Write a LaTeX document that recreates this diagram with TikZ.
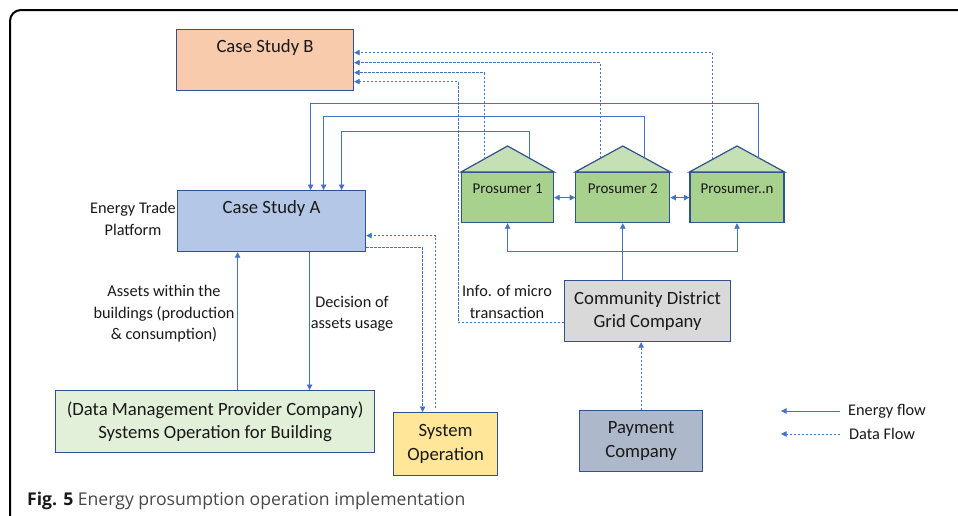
\documentclass[tikz,border=0pt]{standalone}
\usepackage{fontspec}
\setmainfont{Carlito}
\newfontfamily\capfont{Open Sans}
\usetikzlibrary{arrows.meta,positioning,calc}
\definecolor{flowblue}{HTML}{4472C4}
\definecolor{edgeblue}{HTML}{2F528F}
\definecolor{peach}{HTML}{F8CBAD}
\definecolor{platblue}{HTML}{B4C7E7}
\definecolor{mintgreen}{HTML}{E2F0D9}
\definecolor{sunyellow}{HTML}{FFE699}
\definecolor{gridgray}{HTML}{D9D9D9}
\definecolor{paygray}{HTML}{ADB9CA}
\definecolor{housegreen}{HTML}{A9D18E}
\definecolor{roofgreen}{HTML}{C5E0B4}
\tikzset{x=1pt, y=-1pt, % one unit is one pixel, y runs downwards
        box/.style={ % Sets the properties for each block
            draw=edgeblue, line width=1.2pt,
            inner sep=0pt, align=center, text=black!90,
            font=\fontsize{18.7}{23.5}\selectfont},
        boxtext/.style={inner sep=0pt, text=black!90,
            font=\fontsize{18.7}{23.5}\selectfont},
        housetext/.style={inner sep=0pt, text=black!90,
            font=\fontsize{15}{18}\selectfont},
        house/.style={box, fill=housegreen,
            minimum width=92pt, minimum height=50pt},
        roof/.style={draw=edgeblue, line width=1.2pt, fill=roofgreen,
            line join=miter},
        lbl/.style={inner sep=0pt, align=center, text=black!90,
            font=\fontsize{16.3}{21.5}\selectfont},
        energy/.style={ % Energy flow, solid
            draw=flowblue, line width=0.9pt,
            -{Triangle[length=5.5pt,width=5.5pt]}},
        data/.style={ % Data flow, dashed
            energy, dash pattern=on 2.5pt off 1.5pt},
        both/.style={energy,
            {Triangle[length=5.5pt,width=5.5pt]}-{Triangle[length=5.5pt,width=5.5pt]}}
        }

\begin{document}
\begin{tikzpicture}
    \useasboundingbox (0,0) rectangle (958,515);
    \draw[line width=2pt, rounded corners=11pt] (10,540) -- (10,10) -- (980,10);

    % blocks
    \node[box, fill=peach, anchor=north west,
          minimum width=177pt, minimum height=61pt]    (csb) at (176,29)  {};
    \node[boxtext] (csbtext) at ([yshift=-19pt]csb.north) {Case Study B};
    \node[box, fill=platblue, anchor=north west,
          minimum width=188pt, minimum height=61pt]    (csa) at (177,190) {};
    \node[boxtext] (csatext) at ([yshift=-19pt]csa.north) {Case Study A};
    \node[box, fill=mintgreen, anchor=north west,
          minimum width=319pt, minimum height=62pt]    (dm)  at (55,390)
          {(Data Management Provider Company)\\Systems Operation for Building};
    \node[box, fill=sunyellow, anchor=north west,
          minimum width=104pt, minimum height=63pt]    (sys) at (393,412) {System\\Operation};
    \node[box, fill=gridgray, anchor=north west,
          minimum width=166pt, minimum height=61pt]    (cdg) at (564,280) {Community District\\Grid Company};
    \node[box, fill=paygray, anchor=north west,
          minimum width=123pt, minimum height=61pt]    (pay) at (579,410) {Payment\\Company};

    % prosumers
    \node[house, anchor=north west]             (p1) at (461,172) {};
    \node[house, minimum width=94pt, right=21pt of p1] (p2) {};
    \node[house, minimum width=94pt, right=19pt of p2] (pn) {};
    \foreach \p/\t in {p1/Prosumer 1, p2/Prosumer 2, pn/Prosumer..n}{
        \coordinate (\p t) at ([yshift=26pt]\p.north);
        \filldraw[roof] (\p.north west) -- (\p t) -- (\p.north east) -- cycle;
        \node[housetext] (\p text) at ([yshift=-17pt]\p.north) {\t};
    }

    % side labels
    \node[lbl] (etp)  at (133,219) {Energy Trade\\Platform};
    \node[lbl] (asl)  at (164,314) {Assets within the\\buildings (production\\\& consumption)};
    \node[lbl] (dec)  at (352,314) {Decision of\\assets usage};
    \node[lbl] (info) at (507,302) {Info. of micro\\transaction};

    % energy flow from the prosumers to the platform
    \coordinate (r1) at ($(p1t)!.46!(p1.north east)$);
    \coordinate (r2) at ($(p2t)!.46!(p2.north east)$);
    \coordinate (rn) at ($(pnt)!.45!(pn.north east)$);
    \draw[energy] (r1) -- ++(0,-27) -| ([xshift=70pt]csa.north);
    \draw[energy] (r2) -- ++(0,-42) -| ([xshift=52pt]csa.north);
    \draw[energy] (rn) -- ++(0,-54) -| ([xshift=39pt]csa.north);

    % data flow to case study B
    \coordinate (l1) at ($(p1t)!.5!(p1.north west)$);
    \coordinate (l2) at ($(p2t)!.48!(p2.north west)$);
    \coordinate (ln) at ($(pnt)!.51!(pn.north west)$);
    \draw[data] (ln) |- ([yshift=7.5pt]csb.east);
    \draw[data] (l2) |- ([yshift=-2.5pt]csb.east);
    \draw[data] (l1) |- ([yshift=-12.5pt]csb.east);
    \draw[data] ([yshift=-11.5pt]cdg.west) -- ++(-106,0) |- ([yshift=-21.5pt]csb.east);

    % platform and building operation
    \draw[energy] ([xshift=-34pt]csa.south |- dm.north) -- ([xshift=-34pt]csa.south);
    \draw[energy] ([xshift=38pt]csa.south) -- ([xshift=38pt]csa.south |- dm.north);
    \draw[data] ([xshift=-10pt,yshift=4pt]sys.north) |- ([yshift=-14.5pt]csa.east);
    \draw[data] ([yshift=-26.5pt]csa.east) -| ([xshift=-23pt]sys.north);

    % grid company
    \draw[energy] (cdg.north -| p2.south) -- (p2.south);
    \coordinate (jn) at ($(p2.south)!.5!(cdg.north -| p2.south)$);
    \draw[energy] (jn) -| (p1.south);
    \draw[energy] (jn) -| (pn.south);
    \draw[both] (p1.east) -- (p1.east -| p2.west);
    \draw[both] (p2.east) -- (p2.east -| pn.west);
    \draw[data] (pay.north) -- (pay.north |- cdg.south);

    % legend
    \node[lbl, anchor=west] (lge) at (848,411) {Energy flow};
    \node[lbl, anchor=west] (lgd) at (849,434) {Data Flow};
    \draw[energy] ([xshift=-8pt]lge.west) -- ++(-59,0);
    \draw[data] ([xshift=-9pt]lgd.west) -- ++(-59,0);

    % caption
    \node[anchor=base west, inner sep=0pt, text=black!72,
          font=\capfont\fontsize{17.6}{20}\selectfont] (cap) at (27,505)
          {\textcolor{black!90}{\textbf{Fig. 5}} Energy prosumption operation implementation};
\end{tikzpicture}
\end{document}
